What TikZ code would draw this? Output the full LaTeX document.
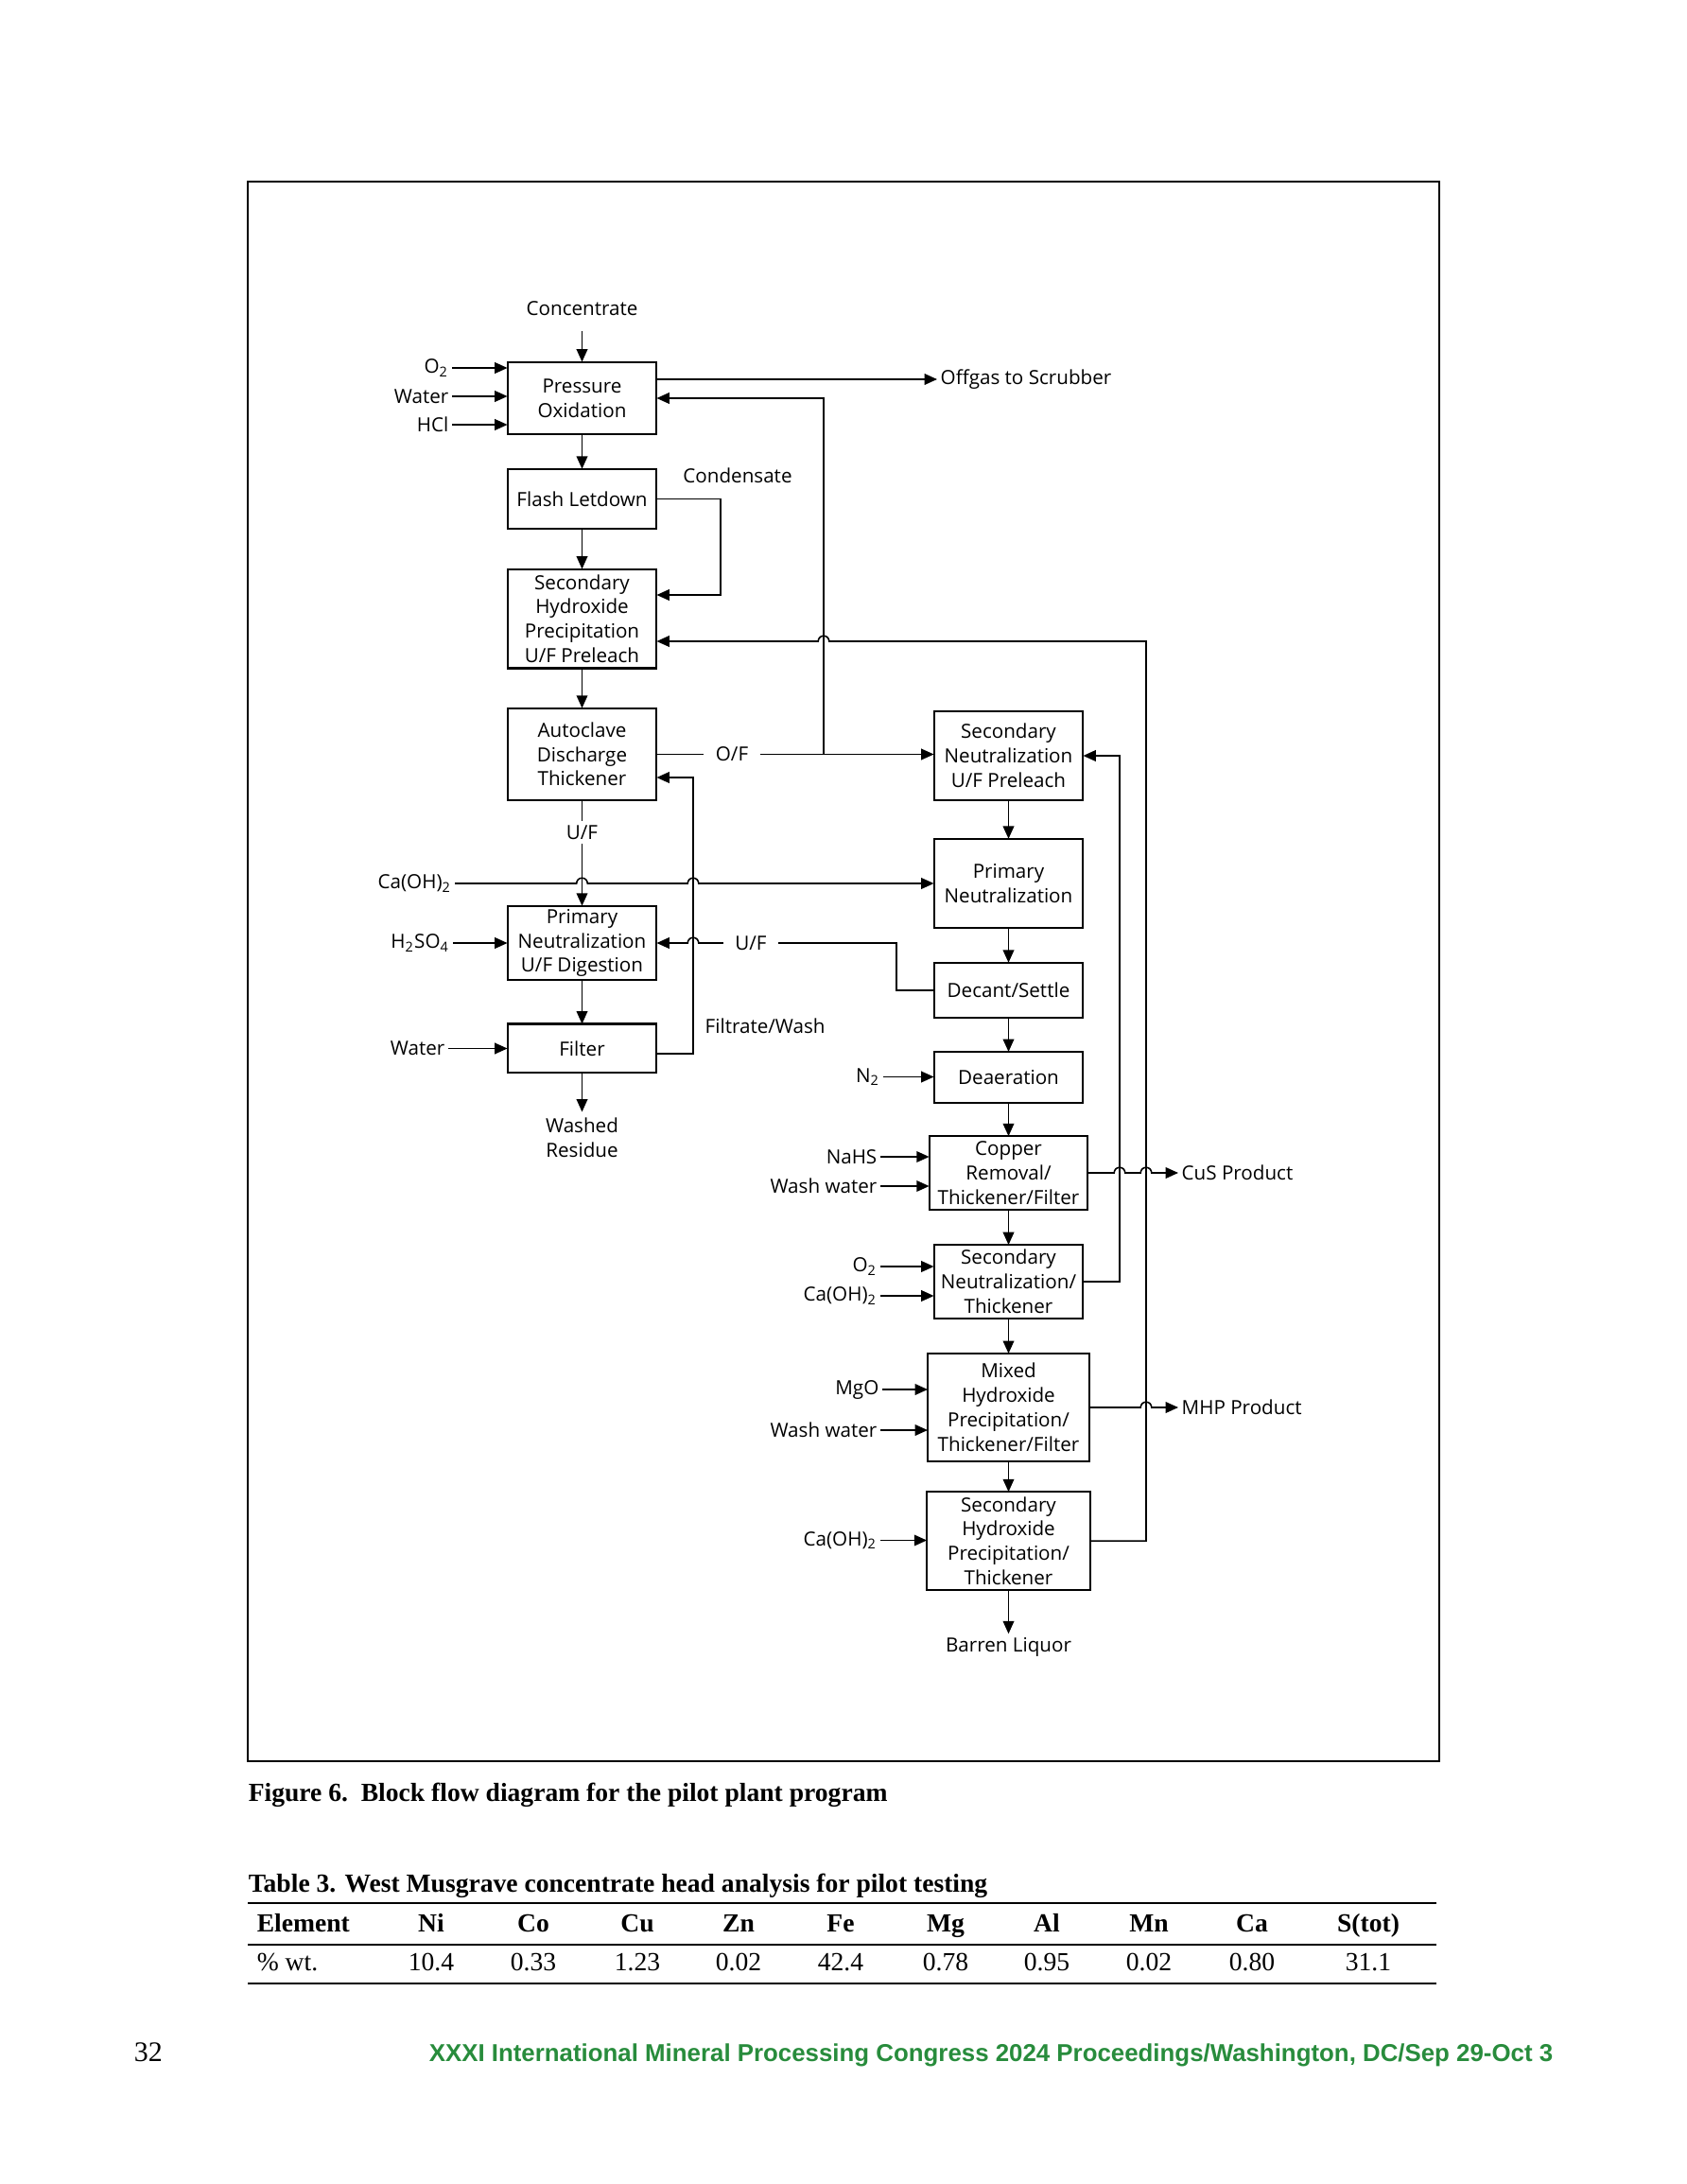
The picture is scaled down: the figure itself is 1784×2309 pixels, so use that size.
\documentclass[tikz,border=0pt]{standalone}
\usepackage{fontspec}
\setmainfont{Liberation Serif}
\newfontfamily\dfont{Open Sans}
\newfontfamily\ffont{Liberation Sans}
\usepackage{xcolor}
\usetikzlibrary{positioning}
\usetikzlibrary{arrows.meta}

\definecolor{imgreen}{RGB}{40,140,60}
\newcommand{\dsize}{\fontsize{7.1}{8.9}\selectfont\dfont}
\newcommand{\tsize}{\fontsize{9.5}{11}\selectfont}

\tikzset{
  blk/.style={draw, line width=0.7pt, outer sep=0pt, minimum width=19.1mm, align=center, inner sep=1pt, font=\dsize},
  lbl/.style={inner sep=1pt, font=\dsize},
  midlbl/.style={inner xsep=4pt, inner ysep=1.2pt, font=\dsize},
  capt/.style={inner sep=0pt, font=\tsize\bfseries},
  thd/.style={inner sep=0pt, font=\tsize\bfseries},
  tdat/.style={inner sep=0pt, font=\tsize},
}

\begin{document}
\begin{tikzpicture}[x=0.12102mm, y=-0.12102mm, line width=0.55pt,
    >={Triangle[length=4.6pt,width=4pt]}]
  \useasboundingbox (0,0) rectangle (1784,2309);
  % frame of the figure
  \draw[line width=0.7pt] (262,192) rectangle (1522,1862);

  % left column
  \node[blk, minimum height=9.3mm] (po) at (615.5,421) {Pressure\\Oxidation};
  \node[blk, minimum height=7.7mm, below=4.4mm of po] (fl) {Flash Letdown};
  \node[blk, minimum height=12.7mm, below=5.1mm of fl] (shp) {Secondary\\Hydroxide\\Precipitation\\U/F Preleach};
  \node[blk, minimum height=11.8mm, below=5.1mm of shp] (adt) {Autoclave\\Discharge\\Thickener};
  \node[blk, minimum height=9.5mm, below=13.5mm of adt] (pnud) {Primary\\Neutralization\\U/F Digestion};
  \node[blk, minimum height=6.25mm, below=5.6mm of pnud] (filt) {Filter};

  % right column
  \node[blk, minimum height=11.45mm] (snp) at (1066.5,799) {Secondary\\Neutralization\\U/F Preleach};
  \node[blk, minimum height=11.45mm, below=4.9mm of snp] (pn) {Primary\\Neutralization};
  \node[blk, minimum height=7.0mm, below=4.4mm of pn] (dec) {Decant/Settle};
  \node[blk, minimum height=6.5mm, below=4.4mm of dec] (dea) {Deaeration};
  \node[blk, minimum width=20.3mm, minimum height=9.4mm, below=4.3mm of dea] (cu) {Copper\\Removal/\\Thickener/Filter};
  \node[blk, minimum height=9.4mm, below=4.5mm of cu] (snt) {Secondary\\Neutralization/\\Thickener};
  \node[blk, minimum width=20.7mm, minimum height=13.8mm, below=4.5mm of snt] (mhp) {Mixed\\Hydroxide\\Precipitation/\\Thickener/Filter};
  \node[blk, minimum width=20.9mm, minimum height=12.55mm, below=3.9mm of mhp] (shp2) {Secondary\\Hydroxide\\Precipitation/\\Thickener};

  % feeds and products
  \node[lbl] (conc) at (615.5,326) {Concentrate};
  \node[lbl, anchor=east] (o2a) at (478,389) {O\textsubscript{2}};
  \node[lbl, anchor=east] (wat1) at (478,419) {Water};
  \node[lbl, anchor=east] (hcl) at (478,449) {HCl};
  \node[lbl, anchor=west] (offg) at (991,401) {Offgas to Scrubber};
  \node[lbl] (cond) at (780,503) {Condensate};
  \node[midlbl] (of) at (774,797.5) {O/F};
  \node[midlbl] (uf1) at (615.5,880) {U/F};
  \node[lbl, anchor=east] (caoh1) at (481,934) {Ca(OH)\textsubscript{2}};
  \node[lbl, anchor=east] (h2so4) at (479,997) {H\textsubscript{2}SO\textsubscript{4}};
  \node[midlbl] (uf2) at (794,997) {U/F};
  \node[lbl, anchor=east] (wat2) at (474,1108.5) {Water};
  \node[lbl, anchor=west] (fw) at (742,1085) {Filtrate/Wash};
  \node[lbl, align=center, inner sep=2pt] (res) at (615.5,1203) {Washed\\Residue};
  \node[lbl, anchor=east] (n2) at (934,1138.5) {N\textsubscript{2}};
  \node[lbl, anchor=east] (nahs) at (931,1223) {NaHS};
  \node[lbl, anchor=east] (ww1) at (931,1254) {Wash water};
  \node[lbl, anchor=west] (cus) at (1246,1240) {CuS Product};
  \node[lbl, anchor=east] (o2b) at (931,1339) {O\textsubscript{2}};
  \node[lbl, anchor=east] (caoh2) at (931,1370) {Ca(OH)\textsubscript{2}};
  \node[lbl, anchor=east] (mgo) at (933,1469) {MgO};
  \node[lbl, anchor=east] (ww2) at (931,1512) {Wash water};
  \node[lbl, anchor=west] (mhpp) at (1246,1488) {MHP Product};
  \node[lbl, anchor=east] (caoh3) at (931,1628.5) {Ca(OH)\textsubscript{2}};
  \node[lbl] (bar) at (1066.5,1741) {Barren Liquor};

  % return line positions
  \coordinate (vof) at (871,0);
  \coordinate (vcond) at (762,0);
  \coordinate (vfw) at (733,0);
  \coordinate (vuf) at (948,0);
  \coordinate (vsn) at (1184,0);
  \coordinate (vsh) at (1212,0);

  % main flow, left
  \draw[->, shorten <=4.5pt] (conc) -- (po);
  \draw[->] (o2a) -- (o2a -| po.west);
  \draw[->] (wat1) -- (wat1 -| po.west);
  \draw[->] (hcl) -- (hcl -| po.west);
  \draw[->] (po.east |- offg) -- (offg);
  \draw[->] (po) -- (fl);
  \draw[->] (fl) -- (shp);
  \draw[->] (shp) -- (adt);
  \draw[->] (fl.east) -- (fl.east -| vcond) -- (vcond |- 0,629) -- (shp.east |- 0,629);
  \draw (of -| adt.east) -- (of);
  \draw[->] (of) -- (of -| snp.west);
  \draw[->] (vof |- of) -- (vof |- po.east) -- (po.east);
  \draw (adt) -- (uf1);
  \draw[->] (uf1) -- (pnud);
  \draw[->] (h2so4) -- (h2so4 -| pnud.west);
  \draw[->] (pnud) -- (filt);
  \draw[->] (wat2) -- (wat2 -| filt.west);
  \draw[->] (filt) -- (res);
  \draw[->] (filt.east |- 0,1114) -- (vfw |- 0,1114) -- (vfw |- 0,822) -- (adt.east |- 0,822);

  % lime line with hops
  \draw[->] (caoh1) -- (609.7,934) arc[start angle=180, end angle=0, radius=0.7mm]
    -- (727.2,934) arc[start angle=180, end angle=0, radius=0.7mm] -- (caoh1 -| pn.west);
  \draw (dec.west) -- (dec.west -| vuf) -- (vuf |- uf2) -- (uf2);
  \draw[->] (uf2) -- (738.8,997) arc[start angle=0, end angle=180, radius=0.7mm] -- (uf2 -| pnud.east);

  % main flow, right
  \draw[->] (snp) -- (pn);
  \draw[->] (pn) -- (dec);
  \draw[->] (dec) -- (dea);
  \draw[->] (n2) -- (n2 -| dea.west);
  \draw[->] (dea) -- (cu);
  \draw[->] (nahs) -- (nahs -| cu.west);
  \draw[->] (ww1) -- (ww1 -| cu.west);
  \draw[->] (cu) -- (snt);
  \draw[->] (o2b) -- (o2b -| snt.west);
  \draw[->] (caoh2) -- (caoh2 -| snt.west);
  \draw[->] (snt) -- (mhp);
  \draw[->] (mgo) -- (mgo -| mhp.west);
  \draw[->] (ww2) -- (ww2 -| mhp.west);
  \draw[->] (mhp) -- (shp2);
  \draw[->] (caoh3) -- (caoh3 -| shp2.west);
  \draw[->] (shp2) -- (bar);

  % products and recycles
  \draw[->] (cus -| cu.east) -- (cus -| 1178.2,0) arc[start angle=180, end angle=0, radius=0.7mm]
    -- (cus -| 1206.2,0) arc[start angle=180, end angle=0, radius=0.7mm] -- (cus);
  \draw[->] (mhpp -| mhp.east) -- (mhpp -| 1206.2,0) arc[start angle=180, end angle=0, radius=0.7mm] -- (mhpp);
  \draw[->] (snt.east) -- (snt.east -| vsn) -- (vsn |- snp.east) -- (snp.east);
  \draw[->] (shp2.east) -- (shp2.east -| vsh) -- (vsh |- 0,678)
    -- (876.8,678) arc[start angle=0, end angle=180, radius=0.7mm] -- (shp.east |- 0,678);

  % caption and table
  \node[capt, anchor=base west] (cap) at (262,1904) {Figure 6.\ \ Block flow diagram for the pilot plant program};
  \node[capt, anchor=base west] (ttl) at (262,2000) {Table 3. West Musgrave concentrate head analysis for pilot testing};
  \draw[line width=1pt] (262,2012) -- (1519,2012);
  \draw[line width=1pt] (262,2056) -- (1519,2056);
  \draw[line width=1pt] (262,2097) -- (1519,2097);
  \node[thd, anchor=base west] (h0) at (271,2042) {Element};
  \node[tdat, anchor=base west] (d0) at (271,2083) {\% wt.};
  \foreach \el/\val/\x [count=\i] in {Ni/10.4/456, Co/0.33/564, Cu/1.23/674, Zn/0.02/781,
      Fe/42.4/889, Mg/0.78/1000, Al/0.95/1107, Mn/0.02/1215, Ca/0.80/1324, S(tot)/31.1/1447}
  {
    \node[thd, anchor=base] (h\i) at (\x,2042) {\el};
    \node[tdat, anchor=base] (d\i) at (\x,2083) {\val};
  }

  % page foot
  \node[inner sep=0pt, anchor=base west, font=\fontsize{10.3}{12}\selectfont] (pg) at (141,2179) {32};
  \node[inner sep=0pt, anchor=base east, text=imgreen, font=\fontsize{8.9}{10}\selectfont\ffont\bfseries] (foot) at (1643,2179)
    {XXXI International Mineral Processing Congress 2024 Proceedings/Washington, DC/Sep 29-Oct 3};
\end{tikzpicture}
\end{document}
